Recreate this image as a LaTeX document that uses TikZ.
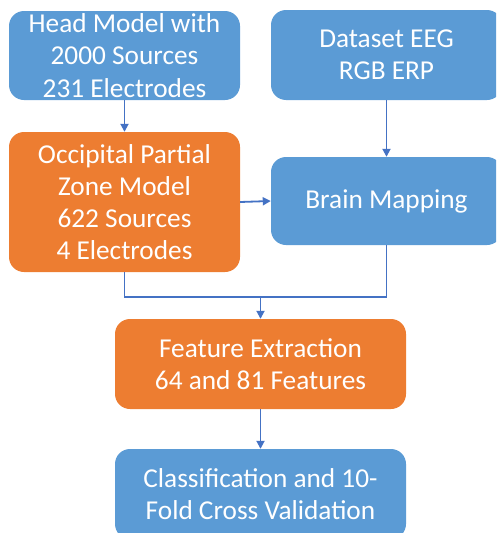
\documentclass[tikz,border=0pt]{standalone}
\usepackage{fontspec}
\setmainfont{Carlito}
\usetikzlibrary{arrows.meta}
\definecolor{boxblue}{HTML}{5B9BD5}
\definecolor{boxorange}{HTML}{ED7D31}
\definecolor{linkblue}{HTML}{4472C4}
\tikzset{
  stepbox/.style={rounded corners=15pt, draw=none, text=white, align=center,
    inner sep=0pt, font=\fontsize{27.3}{32.2}\selectfont},
  bluebox/.style={stepbox, fill=boxblue},
  orangebox/.style={stepbox, fill=boxorange},
  link/.style={draw=linkblue, line width=1.8pt},
  arrowlink/.style={link, -{Triangle[length=8pt,width=8pt]}},
}
\begin{document}
\begin{tikzpicture}[x=1pt, y=-1pt]
  \useasboundingbox (0,0) rectangle (496,533);
  \clip (0,0) rectangle (496,533);
  \node[bluebox, minimum width=231pt, minimum height=89pt] (head) at (124.5,55.5)
    {Head Model with\\2000 Sources\\231 Electrodes};
  \node[bluebox, minimum width=231pt, minimum height=90pt] (data) at (386.5,55)
    {Dataset EEG\\RGB ERP};
  \node[orangebox, minimum width=231pt, minimum height=140pt] (zone) at (124.5,202)
    {Occipital Partial\\Zone Model\\622 Sources\\4 Electrodes};
  \node[bluebox, minimum width=231pt, minimum height=88pt] (map) at (386.5,201)
    {Brain Mapping};
  \node[orangebox, minimum width=291pt, minimum height=90pt] (feat) at (260.5,364)
    {Feature Extraction\\64 and 81 Features};
  \node[bluebox, minimum width=291pt, minimum height=90pt] (cls) at (260.5,494)
    {Classification and 10-\\Fold Cross Validation};
  \coordinate (merge) at (260.5,297);

  \draw[arrowlink] (head.south) -- (zone.north);
  \draw[arrowlink] (data.south) -- (map.north);
  \draw[arrowlink] (zone.east) -- (map.west);
  \draw[link] (zone.south) |- (merge);
  \draw[link] (map.south) |- (merge);
  \draw[arrowlink] (merge) -- (feat.north);
  \draw[arrowlink] (feat.south) -- (cls.north);
\end{tikzpicture}
\end{document}
